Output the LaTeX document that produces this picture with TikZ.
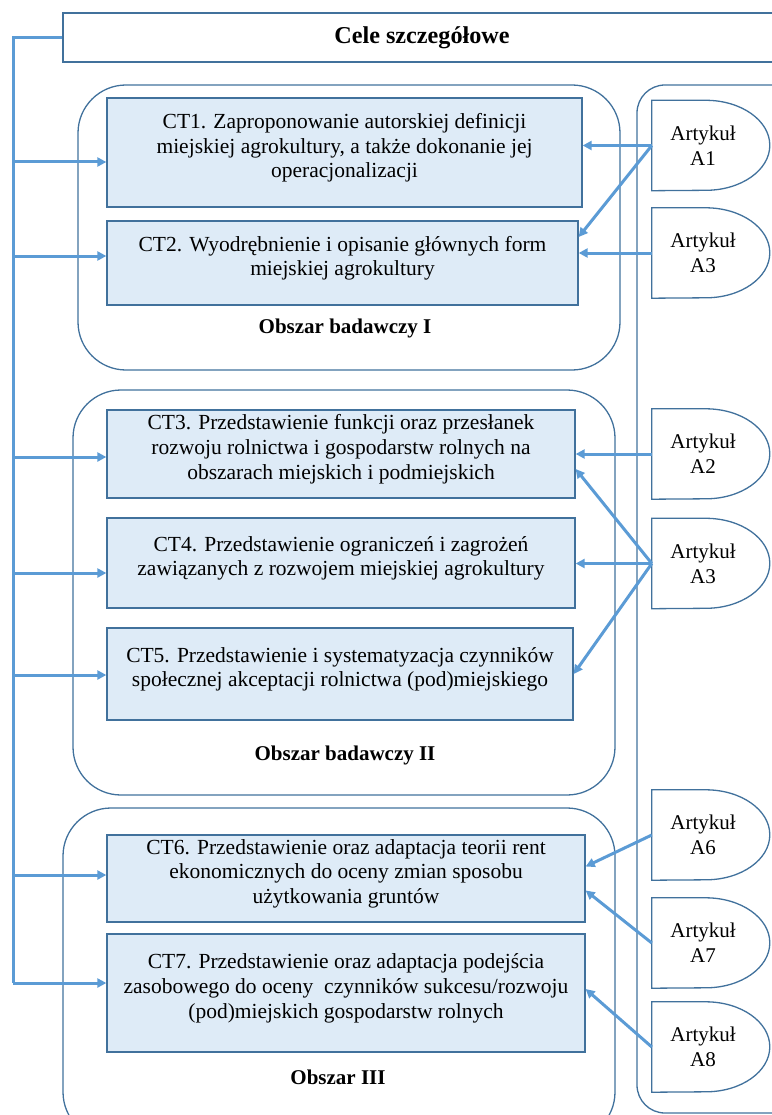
\documentclass[tikz,border=0pt]{standalone}
\usepackage{fontspec}
\setmainfont{Liberation Serif}
\usetikzlibrary{positioning,arrows.meta}

\definecolor{boxfill}{HTML}{DEEBF7}
\definecolor{boxline}{HTML}{41719C}
\definecolor{arrblue}{HTML}{5B9BD5}

\begin{document}
\begin{tikzpicture}[x=1pt, y=-1pt,
  every node/.style={font=\fontsize{21}{25}\selectfont},
  ct/.style={draw=boxline, fill=boxfill, line width=1.3pt, align=center, inner sep=0pt, text depth=14pt, font=\fontsize{21.5}{24.8}\selectfont},
  area/.style={draw=boxline, line width=1.3pt, rounded corners=48pt},
  art/.style={minimum width=102pt, minimum height=90pt, inner sep=0pt, align=center},
  artline/.style={draw=boxline, line width=1.3pt},
  lab/.style={font=\fontsize{21}{25}\selectfont\bfseries},
  bus/.style={draw=arrblue, line width=3pt},
  arr/.style={arrblue, line width=3pt, -{Triangle[length=9pt, width=9pt]}}]
  \useasboundingbox (0,0) rectangle (771,1115);

  % title and containers
  \node[draw=boxline, line width=1.3pt, minimum width=718pt, minimum height=49pt, font=\fontsize{24.2}{28}\selectfont\bfseries] (title) at (422,37.5) {Cele szczegółowe};
  \draw[area] (78,85) rectangle (620,370);
  \draw[area] (73,390) rectangle (615,795);
  \draw[area] (63,808) rectangle (615,1140);
  \draw[area, rounded corners=28pt] (637,85) rectangle (800,1113);

  % objectives
  \node[ct, minimum width=475pt, minimum height=109pt] (ct1) at (344.5,152.5) {CT1. Zaproponowanie autorskiej definicji\\miejskiej agrokultury, a także dokonanie jej\\operacjonalizacji};
  \node[ct, minimum width=471pt, minimum height=84pt] (ct2) at (342.5,263) {CT2. Wyodrębnienie i opisanie głównych form\\miejskiej agrokultury};
  \node[lab] (obI) at (345,328) {Obszar badawczy I};

  \node[ct, minimum width=468pt, minimum height=88pt] (ct3) at (341,454) {CT3. Przedstawienie funkcji oraz przesłanek\\rozwoju rolnictwa i gospodarstw rolnych na\\obszarach miejskich i podmiejskich};
  \node[ct, minimum width=468pt, minimum height=90pt] (ct4) at (341,563) {CT4. Przedstawienie ograniczeń i zagrożeń\\zawiązanych z rozwojem miejskiej agrokultury};
  \node[ct, minimum width=466pt, minimum height=92pt] (ct5) at (340,674) {CT5. Przedstawienie i systematyzacja czynników\\społecznej akceptacji rolnictwa (pod)miejskiego};
  \node[lab] (obII) at (345,755) {Obszar badawczy II};

  \node[ct, minimum width=478pt, minimum height=87pt] (ct6) at (346,878.5) {CT6. Przedstawienie oraz adaptacja teorii rent\\ekonomicznych do oceny zmian sposobu\\użytkowania gruntów};
  \node[ct, minimum width=478pt, minimum height=118pt] (ct7) at (346,993) {CT7. Przedstawienie oraz adaptacja podejścia\\zasobowego do oceny~ czynników sukcesu/rozwoju\\(pod)miejskich gospodarstw rolnych};
  \node[lab] (obIII) at (338,1077) {Obszar III};

  % articles
  \node[art] (a1) at (703,145.5) {Artykuł\\A1};
  \node[art] (a3) at (703,253) {Artykuł\\A3};
  \node[art] (a2) at (703,454) {Artykuł\\A2};
  \node[art] (a3b) at (703,563.5) {Artykuł\\A3};
  \node[art] (a6) at (703,835) {Artykuł\\A6};
  \node[art] (a7) at (703,943) {Artykuł\\A7};
  \node[art] (a8) at (703,1047) {Artykuł\\A8};
  \foreach \a in {a1,a3,a2,a3b,a6,a7,a8}
    \draw[artline] (\a.north west) -- ++(54pt,0) arc[start angle=90, end angle=-90, x radius=64pt, y radius=45pt] -- (\a.south west) -- cycle;

  % left bus
  \coordinate (busEnd) at (13,983);
  \draw[bus] (title.west) -| (busEnd);
  \foreach \c/\s in {ct1/-9.5,ct2/7,ct3/-3,ct4/-10,ct5/-1,ct6/3.5,ct7/10} {
    \coordinate (tip) at ([yshift=\s pt]\c.west);
    \draw[arr] (busEnd |- tip) -- (tip);
  }

  % article links
  \draw[arr] (a1.west) -- (ct1.east |- a1.west);
  \draw[arr] (a1.west) -- ([yshift=26pt]ct2.east);
  \draw[arr] (a3.west) -- (ct2.east |- a3.west);
  \draw[arr] (a2.west) -- (ct3.east |- a2.west);
  \draw[arr] (a3b.west) -- ([yshift=-15pt]ct3.east);
  \draw[arr] (a3b.west) -- (ct4.east |- a3b.west);
  \draw[arr] (a3b.west) -- (ct5.east);
  \draw[arr] (a6.west) -- ([yshift=12pt]ct6.east);
  \draw[arr] (a7.west) -- ([yshift=-12pt]ct6.east);
  \draw[arr] (a8.west) -- ([yshift=4pt]ct7.east);
\end{tikzpicture}
\end{document}
